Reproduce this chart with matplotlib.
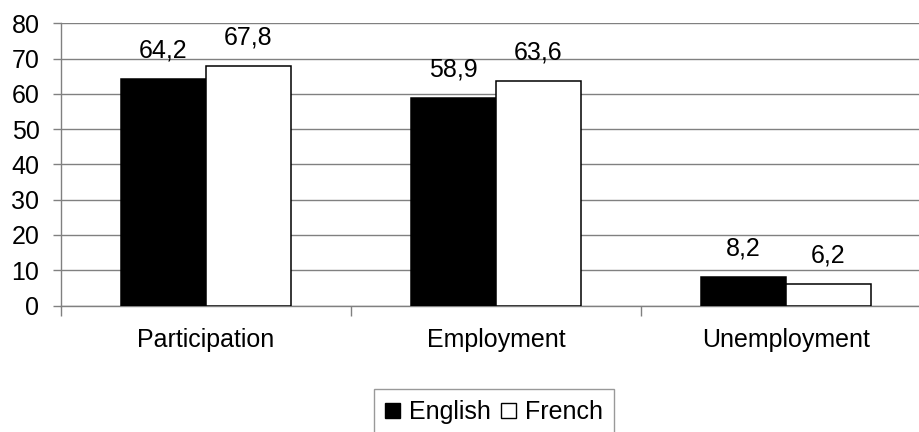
import numpy as np
import matplotlib
matplotlib.use("Agg")
import matplotlib.pyplot as plt
from matplotlib.patches import Patch

plt.rcParams["font.family"] = ["Liberation Sans", "DejaVu Sans"]

categories = ["Participation", "Employment", "Unemployment"]
english = [64.2, 58.9, 8.2]
french = [67.8, 63.6, 6.2]
yticks = [0, 10, 20, 30, 40, 50, 60, 70, 80]

W, H = 919, 432
fs = 18
fig = plt.figure(figsize=(W / 100, H / 100), dpi=100)
# plot area runs past the right edge of the picture, like the source crop
ax = fig.add_axes([61 / W, 1 - 305.5 / H, (931 - 61) / W, (305.5 - 23.3) / H])

grey = "#808080"
x = np.arange(len(categories)) + 0.5
w = 0.293

b1 = ax.bar(x - w / 2, english, w, color="black", edgecolor="black", linewidth=1.1, zorder=3)
b2 = ax.bar(x + w / 2, french, w, color="white", edgecolor="black", linewidth=1.1, zorder=3)

for bars, vals in [(b1, english), (b2, french)]:
    for rect, v in zip(bars, vals):
        ax.annotate(f"{v:.1f}".replace(".", ","),
                    (rect.get_x() + rect.get_width() / 2, v),
                    xytext=(0, 15.5), textcoords="offset points",
                    ha="center", va="baseline", fontsize=fs)

ax.set_xlim(0, 3)
ax.set_ylim(0, 80)
ax.set_yticks(yticks)
ax.yaxis.grid(True, color=grey, linewidth=1.0, zorder=0)
ax.set_axisbelow(True)

ax.set_xticks([0, 1, 2, 3])
ax.set_xticklabels([])
ax.set_xticks(x, minor=True)
ax.set_xticklabels(categories, minor=True)
ax.tick_params(axis="x", which="major", length=7, width=1, color=grey, direction="out")
ax.tick_params(axis="x", which="minor", length=0, pad=16, labelsize=fs)
ax.tick_params(axis="y", length=6, width=1, color=grey, pad=9.5, labelsize=fs)

for s in ["top", "right"]:
    ax.spines[s].set_visible(False)
for s in ["left", "bottom"]:
    ax.spines[s].set_color(grey)
    ax.spines[s].set_linewidth(1.0)

handles = [Patch(facecolor="black", edgecolor="black", label="English"),
           Patch(facecolor="white", edgecolor="black", label="French")]
leg = fig.legend(handles=handles, loc="upper center", ncol=2,
                 bbox_to_anchor=(494 / W, 1 - 389 / H),
                 fontsize=fs, frameon=True, fancybox=False,
                 handlelength=0.6, handleheight=0.6, handletextpad=0.35,
                 columnspacing=0.4, borderpad=0.45, borderaxespad=0)
leg.get_frame().set_edgecolor(grey)
leg.get_frame().set_linewidth(1.0)

fig.savefig("out.png", dpi=100)
